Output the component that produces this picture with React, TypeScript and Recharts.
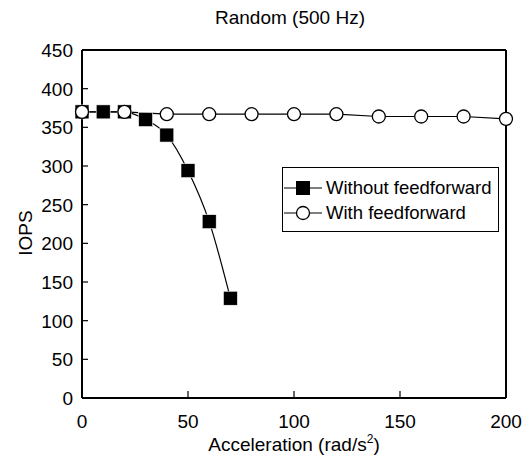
import { LineChart, Line, XAxis, YAxis, ReferenceLine } from 'recharts'

const FONT = '"Liberation Sans", Arial, sans-serif'
const FS = 19

const withoutX = [0, 10, 20, 30, 40, 50, 60, 70]
const withoutY = [370, 370, 370, 360, 340, 294, 228, 129]
const withX = [0, 20, 40, 60, 80, 100, 120, 140, 160, 180, 200]
const withY = [370, 370, 367, 367, 367, 367, 367, 364, 364, 364, 361]

const xTicks = [0, 50, 100, 150, 200]
const yTicks = [0, 50, 100, 150, 200, 250, 300, 350, 400, 450]

const withoutData = withoutX.map((x, i) => ({ x, y: withoutY[i] }))
const withData = withX.map((x, i) => ({ x, y: withY[i] }))

function SquareDot(props: any) {
  const { cx, cy } = props
  if (cx == null || cy == null) return null
  return <rect x={cx - 7} y={cy - 7} width={14} height={14} fill="#000" stroke="#fff" strokeWidth={0.6} />
}

function CircleDot(props: any) {
  const { cx, cy } = props
  if (cx == null || cy == null) return null
  return <circle cx={cx} cy={cy} r={6.5} fill="#fff" stroke="#000" strokeWidth={1.3} />
}

function YTick(props: any) {
  const { x, y, payload } = props
  return (
    <g>
      <line x1={x + 9} x2={x + 15} y1={y} y2={y} stroke="#000" strokeWidth={1.2} />
      <text x={x} y={y} dy={7} textAnchor="end" fontSize={FS} fontFamily={FONT} fill="#000">{payload.value}</text>
    </g>
  )
}

function XTick(props: any) {
  const { x, y, payload } = props
  return (
    <g>
      <line x1={x} x2={x} y1={y - 9} y2={y - 15} stroke="#000" strokeWidth={1.2} />
      <text x={x} y={y} dy={22} textAnchor="middle" fontSize={FS} fontFamily={FONT} fill="#000">{payload.value}</text>
    </g>
  )
}

const legendRows = [
  { name: 'Without feedforward', square: true },
  { name: 'With feedforward', square: false },
]

function LegendBox() {
  return (
    <div style={{ position: 'absolute', left: 282, top: 167, border: '1px solid #000', background: '#fff', width: 217, height: 65, boxSizing: 'border-box', padding: '7px 0 0 1px', fontFamily: FONT, fontSize: 18.5, color: '#000' }}>
      {legendRows.map((r) => (
        <div key={r.name} style={{ display: 'flex', alignItems: 'center', height: 25 }}>
          <svg width={38} height={16} style={{ marginRight: 4 }}>
            <line x1={0} x2={38} y1={8} y2={8} stroke="#000" strokeWidth={1.2} />
            {r.square
              ? <rect x={12} y={1} width={14} height={14} fill="#000" />
              : <circle cx={19} cy={8} r={6.5} fill="#fff" stroke="#000" strokeWidth={1.3} />}
          </svg>
          <span>{r.name}</span>
        </div>
      ))}
    </div>
  )
}

export default function App() {
  return (
    <div style={{ position: 'absolute', left: 0, top: 0, width: 530, height: 456, background: '#fff' }}>
      <div style={{ position: 'absolute', left: 0, width: 580, top: 7, textAlign: 'center', fontFamily: FONT, fontSize: FS }}>
        Random (500 Hz)
      </div>
      <LineChart width={530} height={456} margin={{ top: 50, right: 24, bottom: 0, left: 0 }}>
        <XAxis
          type="number"
          dataKey="x"
          domain={[0, 200]}
          ticks={xTicks}
          height={58}
          tickSize={0}
          tickMargin={8}
          tick={<XTick />}
          axisLine={{ stroke: '#000', strokeWidth: 2 }}
          allowDuplicatedCategory={false}
          label={{
            content: (p: any) => {
              const vb = p.viewBox
              return (
                <text x={vb.x + vb.width / 2} y={vb.y + 53} textAnchor="middle" fontSize={FS} fontFamily={FONT} fill="#000">
                  Acceleration (rad/s<tspan fontSize={12} dy={-8}>2</tspan><tspan dy={8}>)</tspan>
                </text>
              )
            },
          }}
        />
        <YAxis
          type="number"
          dataKey="y"
          domain={[0, 450]}
          ticks={yTicks}
          width={82}
          tickSize={0}
          tickMargin={9}
          tick={<YTick />}
          axisLine={{ stroke: '#000', strokeWidth: 2 }}
          label={{
            content: (p: any) => {
              const vb = p.viewBox
              const cy = vb.y + vb.height / 2 + 9
              return (
                <text x={32} y={cy} transform={`rotate(-90 32 ${cy})`} textAnchor="middle" fontSize={FS} fontFamily={FONT} fill="#000">
                  IOPS
                </text>
              )
            },
          }}
        />
        <ReferenceLine y={450} stroke="#000" strokeWidth={2} />
        <ReferenceLine x={200} stroke="#000" strokeWidth={2} />
        <Line
          data={withoutData}
          dataKey="y"
          name="Without feedforward"
          type="monotone"
          stroke="#000"
          strokeWidth={1.2}
          dot={<SquareDot />}
          activeDot={false}
          isAnimationActive={false}
        />
        <Line
          data={withData}
          dataKey="y"
          name="With feedforward"
          type="linear"
          stroke="#000"
          strokeWidth={1.2}
          dot={<CircleDot />}
          activeDot={false}
          isAnimationActive={false}
        />
      </LineChart>
      <LegendBox />
    </div>
  )
}
